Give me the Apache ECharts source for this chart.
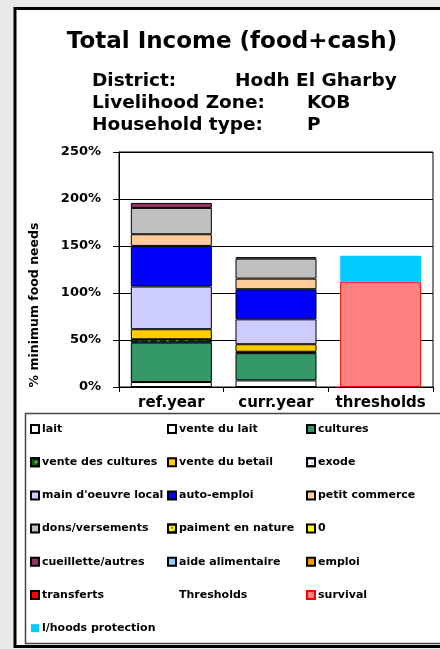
<!DOCTYPE html>
<html>
<head>
<meta charset="utf-8">
<script src="https://cdn.jsdelivr.net/npm/echarts@6/dist/echarts.min.js"></script>
<style>
  html, body { margin: 0; padding: 0; background: #e9e9e9; }
  #main { width: 440px; height: 649px; }
</style>
</head>
<body>
<div id="main"></div>
<script>
// categories on the x axis
var categories = ['ref.year', 'curr.year', 'thresholds'];

// legend / series names, in stacking order
var names = ['lait', 'vente du lait', 'cultures', 'vente des cultures', 'vente du betail', 'exode',
  "main d'oeuvre local", 'auto-emploi', 'petit commerce', 'dons/versements', 'paiment en nature', '0',
  'cueillette/autres', 'aide alimentaire', 'emploi', 'transferts', 'Thresholds', 'survival', 'l/hoods protection'];

// % minimum food needs
var refYear  = [5.3, 0, 42, 3.5, 10.7, 0, 45.4, 43.2, 12.4, 28, 0, 0, 5.3, 0, 0, 0];
var currYear = [7, 0, 29, 1.5, 8, 0, 26.5, 32, 11.3, 21.3, 0, 0, 1.5, 0, 0, 0];
var survival = [112];
var lhoodsProtection = [27.5];

var yTicks = [0, 50, 100, 150, 200, 250];

var colors = ['#FFFFFF', '#FFFFFF', '#339966', '#006600', '#FFCC00', '#FFFFFF', '#CCCCFF', '#0000FF',
  '#FFCC99', '#C0C0C0', '#FFFF00', '#FFFF00', '#993366', '#99CCFF', '#FF9900', '#FF0000'];

var font = 'DejaVu Sans, Liberation Sans, sans-serif';

var chart = echarts.init(document.getElementById('main'));

var series = [];
for (var i = 0; i < 16; i++) {
  var st = { color: colors[i], borderColor: '#000', borderWidth: 1 };
  if (names[i] === 'vente des cultures') {
    st.decal = { symbol: 'rect', color: '#fff', symbolSize: 0.6, dashArrayX: [4, 4], dashArrayY: [2, 3], rotation: -0.6 };
  }
  if (names[i] === 'exode') {
    st.decal = { symbol: 'rect', color: '#000080', symbolSize: 0.5, dashArrayX: [2, 2], dashArrayY: [2, 2] };
  }
  if (names[i] === 'paiment en nature') {
    st.decal = { symbol: 'rect', color: '#000', symbolSize: 0.6, dashArrayX: [3, 3], dashArrayY: [2, 2], rotation: -0.6 };
  }
  series.push({
    name: names[i],
    type: 'bar',
    stack: 'tot',
    barWidth: 81,
    itemStyle: st,
    data: [refYear[i] || '-', currYear[i] || '-', '-']
  });
}
// legend-only entry with no swatch
series.push({
  name: 'Thresholds', type: 'bar', stack: 'tot', barWidth: 81,
  itemStyle: { color: 'rgba(0,0,0,0)', borderWidth: 0 },
  data: ['-', '-', '-']
});
series.push({
  name: 'survival', type: 'bar', stack: 'tot', barWidth: 81,
  itemStyle: { color: '#FF8080', borderColor: '#FF0000', borderWidth: 1 },
  data: ['-', '-', survival[0]]
});
series.push({
  name: 'l/hoods protection', type: 'bar', stack: 'tot', barWidth: 81,
  itemStyle: { color: '#00CCFF', borderWidth: 0 },
  data: ['-', '-', lhoodsProtection[0]]
});

var colX = [25, 162, 301];
var legends = [0, 1, 2].map(function (c) {
  return {
    orient: 'vertical',
    left: colX[c],
    top: 417,
    itemGap: 19.2,
    itemWidth: 8,
    itemHeight: 8,
    icon: 'rect',
    selectedMode: false,
    data: names.filter(function (n, k) { return k % 3 === c; }),
    textStyle: { fontSize: 11, fontWeight: 'bold', fontFamily: font, color: '#000', lineHeight: 14, padding: [0, 0, 0, -2] }
  };
});

var option = {
  backgroundColor: '#e9e9e9',
  animation: false,
  title: {
    text: 'Total Income (food+cash)',
    left: 227,
    textAlign: 'center',
    top: 26,
    textStyle: { fontSize: 23, fontWeight: 'bold', fontFamily: font, color: '#000' }
  },
  graphic: [
    // outer frame
    { type: 'rect', z: -10, shape: { x: 15, y: 8.5, width: 440, height: 638 },
      style: { fill: '#fff', stroke: '#000', lineWidth: 3 } },
    // legend box
    { type: 'rect', z: -9, shape: { x: 25.5, y: 413.5, width: 430, height: 230 },
      style: { fill: '#fff', stroke: '#444', lineWidth: 1.5 } },
    { type: 'text', left: 92, top: 72, style: { text: 'District:', font: 'bold 18.5px ' + font, fill: '#000' } },
    { type: 'text', left: 235, top: 72, style: { text: 'Hodh El Gharby', font: 'bold 18.5px ' + font, fill: '#000' } },
    { type: 'text', left: 92, top: 94, style: { text: 'Livelihood Zone:', font: 'bold 18.5px ' + font, fill: '#000' } },
    { type: 'text', left: 307, top: 94, style: { text: 'KOB', font: 'bold 18.5px ' + font, fill: '#000' } },
    { type: 'text', left: 92, top: 116, style: { text: 'Household type:', font: 'bold 18.5px ' + font, fill: '#000' } },
    { type: 'text', left: 307, top: 116, style: { text: 'P', font: 'bold 18.5px ' + font, fill: '#000' } },
    // y axis name
    { type: 'text', x: 35, y: 305, rotation: Math.PI / 2,
      style: { text: '% minimum food needs', font: 'bold 12.5px ' + font, fill: '#000', textAlign: 'center', textVerticalAlign: 'middle' } }
  ],
  legend: legends,
  grid: { left: 119, right: 7, top: 152, bottom: 262, show: true, borderColor: '#000', borderWidth: 1 },
  xAxis: {
    type: 'category',
    data: categories,
    axisLine: { lineStyle: { color: '#000', width: 1 } },
    axisTick: { show: true, length: 5, lineStyle: { color: '#000' } },
    axisLabel: { interval: 0, margin: 9, fontSize: 15, fontWeight: 'bold', fontFamily: font, color: '#000' }
  },
  yAxis: {
    type: 'value',
    min: yTicks[0],
    max: yTicks[yTicks.length - 1],
    interval: 50,
    axisLine: { show: true, lineStyle: { color: '#000', width: 1 } },
    axisTick: { show: true, length: 6, lineStyle: { color: '#000' } },
    axisLabel: { margin: 18, fontSize: 13, fontWeight: 'bold', fontFamily: font, color: '#000', formatter: '{value}%' },
    splitLine: { lineStyle: { color: '#000', width: 1 } }
  },
  series: series
};

chart.setOption(option);
</script>
</body>
</html>
